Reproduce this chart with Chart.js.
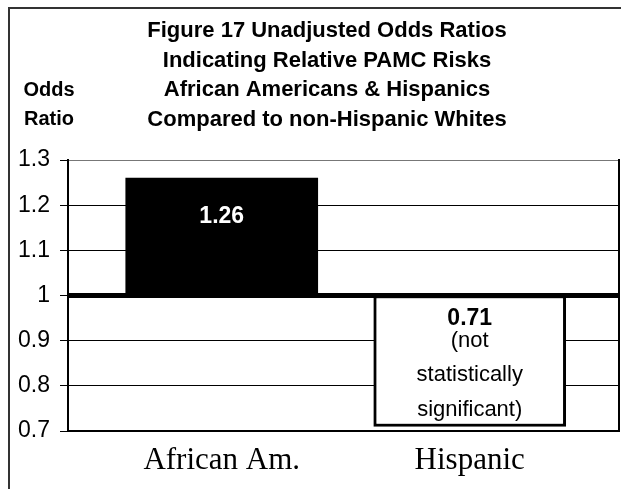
<!DOCTYPE html>
<html>
<head>
<meta charset="utf-8">
<script src="https://cdn.jsdelivr.net/npm/chart.js@4/dist/chart.umd.min.js"></script>
<style>
  body { margin: 0; background: #fff; }
  #wrap { position: relative; width: 621px; height: 489px; overflow: hidden; }
  #frame {
    position: absolute; left: 8px; top: 7px; right: -10px; bottom: -10px;
    border-top: 2px solid #333; border-left: 2px solid #333;
  }
  #c { position: absolute; left: 0; top: 0; }
</style>
</head>
<body>
<div id="wrap">
  <div id="frame"></div>
  <canvas id="c" width="621" height="489"></canvas>
</div>
<script>
// groups compared against non-Hispanic whites (odds ratio 1)
const categories = ['African Am.', 'Hispanic'];
const oddsRatios = [1.26, 0.71];
const referenceRatio = 1;
const yTicks = [0.7, 0.8, 0.9, 1.0, 1.1, 1.2, 1.3];
const notes = [[], ['(not', 'statistically', 'significant)']];
const titleLines = [
  'Figure 17 Unadjusted Odds Ratios',
  'Indicating Relative PAMC Risks',
  'African Americans & Hispanics',
  'Compared to non-Hispanic Whites'
];
const yLabelLines = ['Odds', 'Ratio'];

const SANS = 'Arial, "Liberation Sans", Helvetica, sans-serif';
const SERIF = '"Times New Roman", "Liberation Serif", serif';

// bars float from the reference ratio up or down to each value
const ranges = oddsRatios.map((v, i) => ({
  x: i,
  y: v >= referenceRatio ? [referenceRatio, v] : [v, referenceRatio]
}));

// title block and the two-line axis caption sit above the plot
const headingPlugin = {
  id: 'heading',
  afterDraw(chart) {
    const ctx = chart.ctx;
    ctx.save();
    ctx.fillStyle = '#000';
    ctx.textAlign = 'center';
    ctx.textBaseline = 'alphabetic';
    ctx.font = 'bold 22px ' + SANS;
    titleLines.forEach((t, i) => ctx.fillText(t, 327, 37 + i * 29.5));
    ctx.font = 'bold 20px ' + SANS;
    yLabelLines.forEach((t, i) => ctx.fillText(t, 49, 96 + i * 29));
    ctx.restore();
  }
};

const barLabelPlugin = {
  id: 'barLabels',
  afterDatasetsDraw(chart) {
    const ctx = chart.ctx;
    const meta = chart.getDatasetMeta(0);
    ctx.save();
    ctx.textAlign = 'center';
    ctx.textBaseline = 'alphabetic';
    meta.data.forEach((bar, i) => {
      const top = Math.min(bar.y, bar.base);
      const above = oddsRatios[i] >= referenceRatio;
      ctx.fillStyle = above ? '#fff' : '#000';
      ctx.font = 'bold 23px ' + SANS;
      let y = top + (above ? 45 : 29);
      ctx.fillText(oddsRatios[i].toFixed(2), bar.x, y);
      ctx.font = '22px ' + SANS;
      y += 22;
      notes[i].forEach(line => {
        ctx.fillText(line, bar.x, y);
        y += 34.5;
      });
    });
    ctx.restore();
  }
};

new Chart(document.getElementById('c'), {
  type: 'bar',
  data: {
    datasets: [{
      data: ranges,
      backgroundColor: oddsRatios.map(v => v >= referenceRatio ? '#000' : '#fff'),
      borderColor: '#000',
      borderWidth: oddsRatios.map(v => v >= referenceRatio ? 0 : 3),
      borderSkipped: false,
      barThickness: 192
    }]
  },
  options: {
    responsive: false,
    animation: false,
    layout: { padding: { left: 8, right: 2, top: 160, bottom: 0 } },
    plugins: {
      legend: { display: false },
      tooltip: { enabled: false },
      title: { display: false }
    },
    scales: {
      x: {
        type: 'linear',
        offset: false,
        min: -0.62,
        max: 1.602,
        afterBuildTicks: axis => { axis.ticks = categories.map((c, i) => ({ value: i })); },
        afterFit: axis => { axis.height = 58; },
        grid: { display: false, drawTicks: false, offset: false },
        border: { display: true, color: '#000', width: 2 },
        ticks: {
          color: '#000',
          padding: 11,
          maxRotation: 0,
          autoSkip: false,
          font: { family: SERIF, size: 31 },
          callback: v => categories[v]
        }
      },
      y: {
        min: 0.7,
        max: 1.3,
        afterBuildTicks: axis => { axis.ticks = yTicks.map(v => ({ value: v })); },
        afterFit: axis => { axis.width = 60; },
        grid: {
          color: ctx => ctx.tick && ctx.tick.value > 1.25 ? '#777' : '#000',
          lineWidth: ctx => ctx.tick && Math.abs(ctx.tick.value - referenceRatio) < 1e-6 ? 5 : 1,
          tickColor: '#000',
          tickLength: 8,
          tickWidth: 1
        },
        border: { display: true, color: '#000', width: 2 },
        ticks: {
          color: '#000',
          padding: 10,
          font: { family: SANS, size: 23 },
          callback: v => String(Math.round(v * 10) / 10)
        }
      },
      yRight: {
        position: 'right',
        min: 0.7,
        max: 1.3,
        afterFit: axis => { axis.width = 0; },
        grid: { display: false, drawTicks: false },
        border: { display: true, color: '#000', width: 2 },
        ticks: { display: false }
      }
    }
  },
  plugins: [headingPlugin, barLabelPlugin]
});
</script>
</body>
</html>
